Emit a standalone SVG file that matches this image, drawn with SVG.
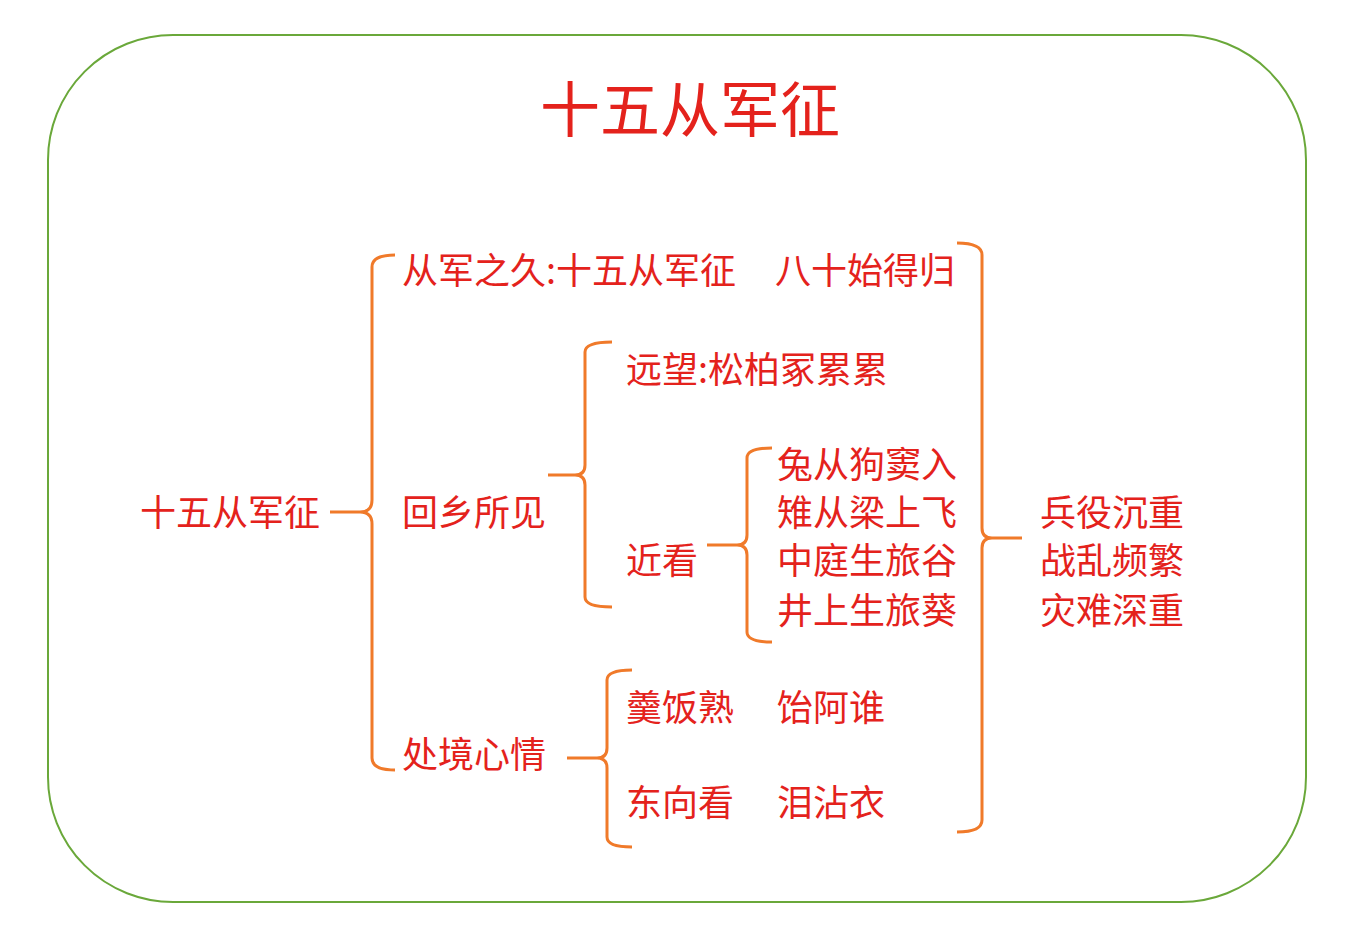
<svg xmlns="http://www.w3.org/2000/svg" width="1362" height="934" viewBox="0 0 1362 934">
<style>
text{font-family:"Noto Sans CJK SC",sans-serif;fill:#e4221c;font-size:36px}
.br{fill:none;stroke:#f07a2a;stroke-width:3}
</style>
<rect width="1362" height="934" fill="#fff"/>
<rect x="48" y="35" width="1258" height="867" rx="125" fill="none" stroke="#6aa83a" stroke-width="2"/>
<text x="690" y="132" text-anchor="middle" style="font-size:60px">十五从军征</text>
<g id="connectors">
<path class="br" d="M330,512H360 M395,255Q372,255 372,267V500Q372,512 360,512Q372,512 372,524V758Q372,770 395,770"/>
<path class="br" d="M548,475H575 M612,342Q585,342 585,352V465Q585,475 575,475Q585,475 585,485V597Q585,607 612,607"/>
<path class="br" d="M707,545H737 M772,448Q747,448 747,458V535Q747,545 737,545Q747,545 747,555V632Q747,642 772,642"/>
<path class="br" d="M567,758H597 M632,670Q607,670 607,680V748Q607,758 597,758Q607,758 607,768V837Q607,847 632,847"/>
<path class="br" d="M957,243Q982,243 982,255V528Q982,538 992,538H1022 M992,538Q982,538 982,548V820Q982,832 957,832"/>
</g>
<g id="root"><text x="140" y="526">十五从军征</text></g>
<g id="n1"><text x="402" y="284">从军之久</text><text x="546" y="284">:十五从军征</text><text x="775" y="284">八十始得归</text></g>
<g id="n2"><text x="402" y="526">回乡所见</text></g>
<g id="n3"><text x="402" y="768">处境心情</text></g>
<g id="n4"><text x="626" y="383">远望</text><text x="698" y="383">:松柏冢累累</text></g>
<g id="n5"><text x="626" y="574">近看</text></g>
<g id="n6"><text x="777" y="478">兔从狗窦入</text><text x="777" y="526">雉从梁上飞</text><text x="777" y="574">中庭生旅谷</text><text x="777" y="624">井上生旅葵</text></g>
<g id="n7"><text x="626" y="721">羹饭熟</text><text x="777" y="721">饴阿谁</text></g>
<g id="n8"><text x="626" y="816">东向看</text><text x="777" y="816">泪沾衣</text></g>
<g id="n9"><text x="1040" y="526">兵役沉重</text><text x="1040" y="574">战乱频繁</text><text x="1040" y="624">灾难深重</text></g>
</svg>
